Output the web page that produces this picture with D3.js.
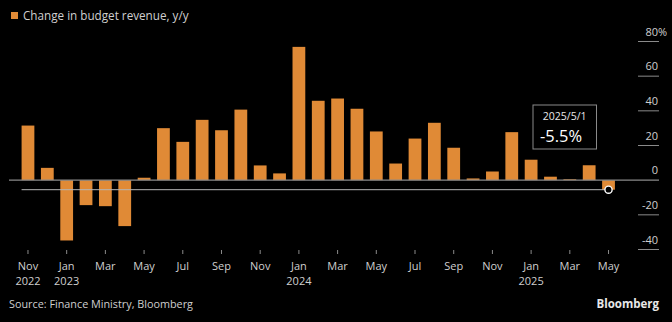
<!DOCTYPE html>
<html><head><meta charset="utf-8">
<script src="https://cdn.jsdelivr.net/npm/d3@7/dist/d3.min.js"></script>
<style>
html,body{margin:0;padding:0;background:#000;}
svg{display:block;}
text{font-family:"Open Sans","Noto Sans",sans-serif;}
</style></head>
<body>
<script>
const months = ["2022-11","2022-12","2023-01","2023-02","2023-03","2023-04","2023-05","2023-06","2023-07","2023-08","2023-09","2023-10","2023-11","2023-12","2024-01","2024-02","2024-03","2024-04","2024-05","2024-06","2024-07","2024-08","2024-09","2024-10","2024-11","2024-12","2025-01","2025-02","2025-03","2025-04","2025-05"];
const values = [31.5,7.1,-34.8,-14.4,-15.0,-26.5,1.4,30.0,22.1,34.8,28.8,40.7,8.5,3.9,76.9,45.8,47.1,41.2,28.1,9.6,24.0,33.1,18.7,1.0,5.0,27.7,11.8,2.0,0.5,8.6,-5.5];
const yTicks = [-40,-20,0,20,40,60,80];
const monthNames = ["Jan","Feb","Mar","Apr","May","Jun","Jul","Aug","Sep","Oct","Nov","Dec"];
const seriesName = "Change in budget revenue, y/y";
const sourceText = "Source: Finance Ministry, Bloomberg";
const highlightLabel = "2025/5/1";

const W = 672, H = 322;
const svg = d3.select("body").append("svg").attr("width", W).attr("height", H);
svg.append("rect").attr("width", W).attr("height", H).attr("fill", "#000");

const x = d3.scaleBand().domain(months).range([18.3, 618.2]).paddingInner(0.34).paddingOuter(0.17);
const y = d3.scaleLinear().domain([-40, 80]).range([249.5, 41.5]);

const barColor = "#E08A36";
const textColor = "#cfcfcf";

// legend
svg.append("rect").attr("x", 11).attr("y", 12).attr("width", 7).attr("height", 7).attr("fill", barColor);
svg.append("text").attr("x", 23).attr("y", 20).attr("fill", textColor).attr("font-size", 11.7).text(seriesName);

// y axis on right
const yAxisG = svg.append("g");
yTicks.forEach(t => {
  if (t !== 0) {
    yAxisG.append("line").attr("x1", 638).attr("x2", 659).attr("y1", y(t)).attr("y2", y(t))
      .attr("stroke", "#8a8a8a").attr("stroke-width", 1);
  }
  yAxisG.append("text").attr("x", 658).attr("y", y(t) - 6).attr("text-anchor", "end")
    .attr("fill", textColor).attr("font-size", 11).text(t);
  if (t === 80) {
    yAxisG.append("text").attr("x", 658).attr("y", y(t) - 6).attr("fill", textColor)
      .attr("font-size", 11).text("%");
  }
});

// bars
svg.append("g").selectAll("rect").data(months).join("rect")
  .attr("x", d => x(d))
  .attr("width", x.bandwidth())
  .attr("y", (d, i) => y(Math.max(0, values[i])))
  .attr("height", (d, i) => Math.abs(y(values[i]) - y(0)))
  .attr("fill", barColor);

// zero line
svg.append("line").attr("x1", 9).attr("x2", 659).attr("y1", y(0)).attr("y2", y(0))
  .attr("stroke", "#8a8a8a").attr("stroke-width", 1.2);

// latest value reference line
const lastIdx = values.length - 1;
const lastVal = values[lastIdx];
const lastX = x(months[lastIdx]) + x.bandwidth() / 2;
svg.append("line").attr("x1", x(months[0])).attr("x2", lastX).attr("y1", y(lastVal)).attr("y2", y(lastVal))
  .attr("stroke", "#b5b5b5").attr("stroke-width", 1);
svg.append("circle").attr("cx", lastX).attr("cy", y(lastVal)).attr("r", 3.6)
  .attr("fill", "#000").attr("stroke", "#fff").attr("stroke-width", 1.4);

// x axis
const xg = svg.append("g");
months.forEach((m, i) => {
  const [yr, mo] = m.split("-").map(Number);
  if (mo % 2 === 0) return;
  const cx = x(m) + x.bandwidth() / 2;
  xg.append("line").attr("x1", cx).attr("x2", cx).attr("y1", 250).attr("y2", 254)
    .attr("stroke", "#8a8a8a").attr("stroke-width", 1);
  xg.append("text").attr("x", cx).attr("y", 270).attr("text-anchor", "middle")
    .attr("fill", textColor).attr("font-size", 11).text(monthNames[mo - 1]);
  if (i === 0 || mo === 1) {
    xg.append("text").attr("x", cx).attr("y", 285).attr("text-anchor", "middle")
      .attr("fill", textColor).attr("font-size", 11).text(yr);
  }
});

// tooltip
const tip = svg.append("g");
tip.append("rect").attr("x", 533).attr("y", 105).attr("width", 63.5).attr("height", 44)
  .attr("fill", "#000").attr("stroke", "#8a8a8a").attr("stroke-width", 1);
tip.append("text").attr("x", 564.7).attr("y", 120).attr("text-anchor", "middle")
  .attr("fill", "#e8e8e8").attr("font-size", 10.5).text(highlightLabel);
tip.append("text").attr("x", 561).attr("y", 141.5).attr("text-anchor", "middle")
  .attr("fill", "#ffffff").attr("font-size", 15.5).attr("textLength", 42).attr("lengthAdjust", "spacingAndGlyphs")
  .text(d3.format(".1f")(lastVal).replace("−", "-") + "%");

// footer
svg.append("text").attr("x", 9).attr("y", 308).attr("fill", textColor).attr("font-size", 11)
  .attr("textLength", 184).attr("lengthAdjust", "spacingAndGlyphs").text(sourceText);
svg.append("text").attr("x", 659).attr("y", 308).attr("text-anchor", "end").attr("fill", "#e8e8e8")
  .attr("font-size", 11.5).attr("font-weight", "bold").text("Bloomberg");
</script>
</body></html>
